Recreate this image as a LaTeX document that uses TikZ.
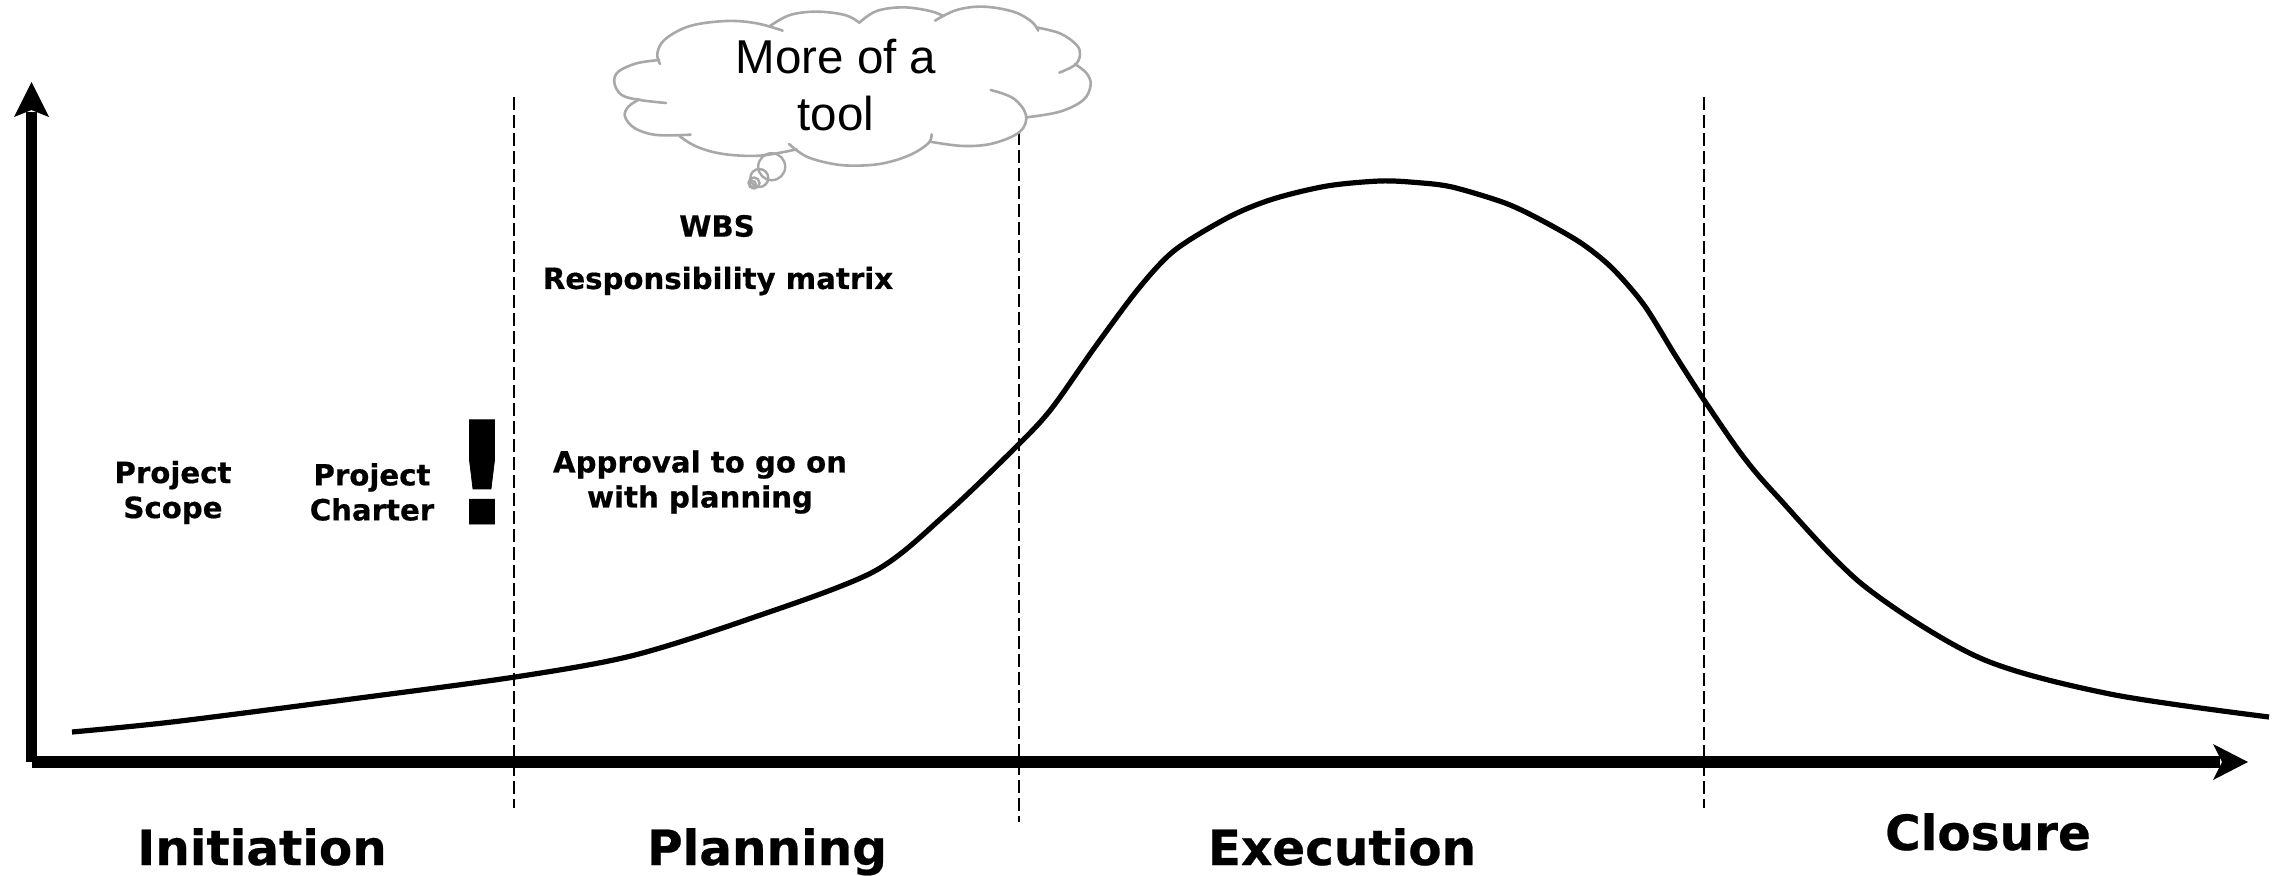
\documentclass[tikz,border=0pt]{standalone}
\usepackage{fontspec}
\setmainfont{DejaVu Sans}[BoldFeatures={FakeBold=0.5}]
\newfontfamily\arialfont{Liberation Sans}
\begin{document}
\begin{tikzpicture}[x=1pt,y=-1pt,
  lbl/.style={font=\bfseries\fontsize{29.2}{35}\selectfont,align=center,inner sep=0pt,text=black},
  phase/.style={font=\bfseries\fontsize{48.5}{56}\selectfont,inner sep=0pt,anchor=base,text=black},
  divider/.style={line width=2pt,dash pattern=on 13pt off 5pt,black},
  puff/.style={draw=cloudgray,line width=2.6pt,line cap=round},
  bubble/.style={draw=cloudgray,line width=2.4pt}]
\definecolor{cloudgray}{HTML}{A8A8A8}
\useasboundingbox (0,0) rectangle (2282,875);
% named points
\coordinate (orig) at (31.5,762);
\coordinate (ytop) at (31.5,112);
\coordinate (xstart) at (31.5,762);
\coordinate (xend) at (2220,762);
\coordinate (d1a) at (514,97);   \coordinate (d1b) at (514,808);
\coordinate (d2a) at (1019,132); \coordinate (d2b) at (1019,822);
\coordinate (d3a) at (1704,97);  \coordinate (d3b) at (1704,808);
% dividers
\draw[divider] (d1a) -- (d1b);
\draw[divider] (d2a) -- (d2b);
\draw[divider] (d3a) -- (d3b);
% axes
\draw[line width=11.5pt] (ytop) -- (orig);
\draw[line width=12pt] (xstart) -- (xend);
\fill (31.5,82) -- (49,117) -- (31.5,110) -- (14,117) -- cycle;
\fill (2248,762) -- (2213,780) -- (2222,762) -- (2213,744) -- cycle;
% curve
\draw[line width=5.2pt,line join=round] plot[smooth,tension=0.5] coordinates {
 (72,732) (172,722) (344,700) (515,677) (631,656) (746,620) (873,572)
 (946,514) (1019,444) (1052,408) (1095,347) (1139,288) (1175,250) (1229,217)
 (1273,199) (1327,186) (1380,181) (1416,182.5) (1452,187) (1505,203) (1541,220) (1581,243)
 (1612,268) (1644,305) (1675,355) (1704,400) (1742,455) (1776,495) (1863,585)
 (1980,658) (2110,694) (2269,717)};
% cloud
\begin{scope}[shift={(600,0)},x=0.3333pt,y=-0.3333pt]
\draw[puff] plot[smooth,tension=0.6] coordinates {(548,92) (470,70) (380,63) (270,78) (195,118) (172,160) (180,192)};
\draw[puff] plot[smooth,tension=0.6] coordinates {(178,180) (110,190) (55,215) (43,248) (65,285) (120,300) (198,309)};
\draw[puff] plot[smooth,tension=0.6] coordinates {(118,298) (85,320) (75,350) (105,385) (170,405) (272,404)};
\draw[puff] plot[smooth,tension=0.6] coordinates {(238,408) (290,440) (370,462) (480,467) (590,448)};
\draw[puff] plot[smooth,tension=0.6] coordinates {(510,78) (570,45) (650,35) (735,45) (778,68)};
\draw[puff] plot[smooth,tension=0.6] coordinates {(778,68) (830,33) (910,22) (990,33) (1030,48)};
\draw[puff] plot[smooth,tension=0.6] coordinates {(1005,62) (1070,30) (1150,20) (1240,35) (1295,65) (1315,92)};
\draw[puff] plot[smooth,tension=0.6] coordinates {(1308,82) (1380,100) (1430,135) (1440,165) (1425,195) (1378,218)};
\draw[puff] plot[smooth,tension=0.6] coordinates {(1425,192) (1460,220) (1472,255) (1450,300) (1380,335) (1280,352)};
\draw[puff] plot[smooth,tension=0.6] coordinates {(1172,270) (1240,295) (1278,345) (1260,395) (1180,430) (1090,438) (990,425)};
\draw[puff] plot[smooth,tension=0.6] coordinates {(567,432) (620,470) (700,492) (770,497) (850,490) (930,465) (985,430) (995,403)};
\end{scope}
\draw[bubble] (771.7,166.7) circle (13.5);
\draw[bubble] (759.3,178) circle (9);
\draw[bubble] (754,183) circle (5.5);
\draw[bubble] (752.7,184) circle (3);
% texts
\node[font=\arialfont\fontsize{47.5}{57}\selectfont,align=center,inner sep=0pt] (tool) at (836,85) {More of a\\tool};
\node[lbl] (wbs) at (717,226) {WBS};
\node[lbl] (resp) at (718,281) {Responsibility matrix};
\node[lbl] (scope) at (173,492.5) {Project\\Scope};
\node[lbl] (charter) at (372,492) {Project\\Charter};
\node[lbl] (appr) at (700,482) {Approval to go on\\with planning};
\node[font=\bfseries\fontsize{143}{143}\selectfont,inner sep=0pt,anchor=base] (bang) at (482,524) {!};
\node[phase] (init) at (262,865) {Initiation};
\node[phase] (plan) at (767,865) {Planning};
\node[phase] (exec) at (1342,865) {Execution};
\node[phase] (clos) at (1988,850) {Closure};
\end{tikzpicture}
\end{document}
